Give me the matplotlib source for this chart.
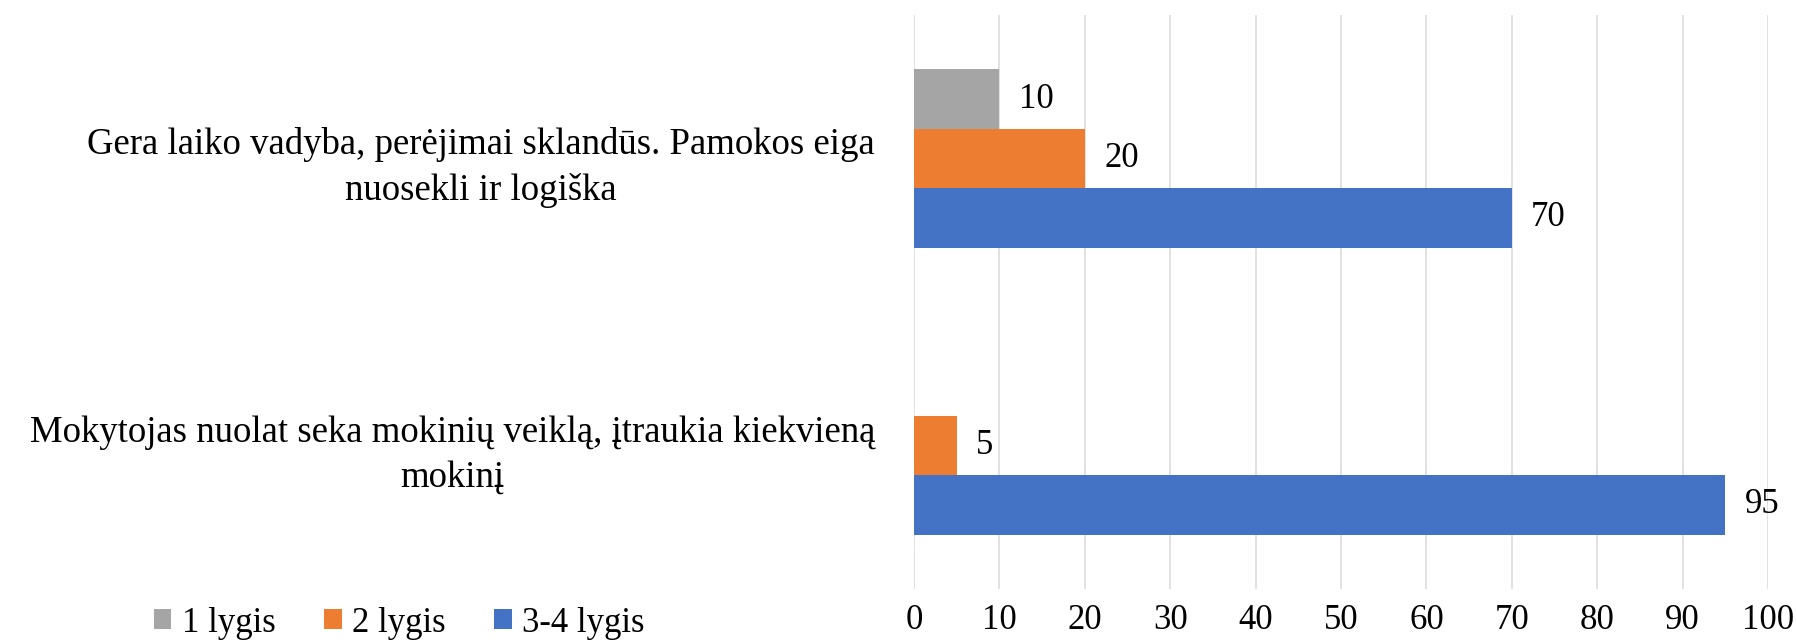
#!/usr/bin/env python3
#
# Usage: plot.py
# Horizontal grouped bar chart, saves it as 'out.png'.

import matplotlib.pyplot as plt
import numpy as np


CATEGORIES = ['Gera laiko vadyba, perėjimai sklandūs. Pamokos eiga\n'
              'nuosekli ir logiška',
              'Mokytojas nuolat seka mokinių veiklą, įtraukia kiekvieną\n'
              'mokinį']
SERIES = ['1 lygis', '2 lygis', '3-4 lygis']
LEVEL_1 = [10, 0]
LEVEL_2 = [20, 5]
LEVEL_3_4 = [70, 95]
X_TICKS = [0, 10, 20, 30, 40, 50, 60, 70, 80, 90, 100]

COLORS = ['#A5A5A5', '#ED7D31', '#4472C4']
GRID_COLOR = '#D9D9D9'
FONT = 'Liberation Serif'
FONT_SIZE = 25
CAT_FONT_SIZE = 26.5

W, H, DPI = 1797, 644, 100
BAR_H = 0.207


def main():
    plt.rcParams.update({'font.family': FONT, 'font.size': FONT_SIZE})
    fig = plt.figure(figsize=(W / DPI, H / DPI), dpi=DPI)
    ax = fig.add_axes([914 / W, 1 - 589 / H, (1768 - 914) / W, (589 - 15) / H])

    # top category first -> highest y
    y = np.arange(len(CATEGORIES))[::-1]
    values = [LEVEL_1, LEVEL_2, LEVEL_3_4]
    offsets = [BAR_H, 0, -BAR_H]
    for name, vals, off, color in zip(SERIES, values, offsets, COLORS):
        bars = ax.barh(y + off, vals, height=BAR_H, color=color, label=name,
                       zorder=3)
        labels = [str(v) if v else '' for v in vals]
        ax.bar_label(bars, labels=labels, padding=14, fontsize=FONT_SIZE)

    ax.set_xlim(0, 100)
    ax.set_ylim(-0.5, len(CATEGORIES) - 0.5)
    ax.set_xticks(X_TICKS)
    ax.set_yticks(y)
    ax.set_yticklabels(CATEGORIES, ha='right', multialignment='center',
                       linespacing=1.4, fontsize=CAT_FONT_SIZE)
    ax.tick_params(axis='x', length=0, pad=11)
    ax.tick_params(axis='y', length=0, pad=28)
    ax.grid(axis='x', color=GRID_COLOR, linewidth=1.1, zorder=0)
    for spine in ax.spines.values():
        spine.set_visible(False)

    fig.legend(loc='center left', bbox_to_anchor=(154 / W, 1 - 623 / H),
               bbox_transform=fig.transFigure, ncol=3, frameon=False,
               borderpad=0, borderaxespad=0, handlelength=0.5,
               handleheight=0.5, handletextpad=0.3, columnspacing=1.4)

    fig.savefig('out.png', dpi=DPI)
    plt.close(fig)


if __name__ == '__main__':
    main()
